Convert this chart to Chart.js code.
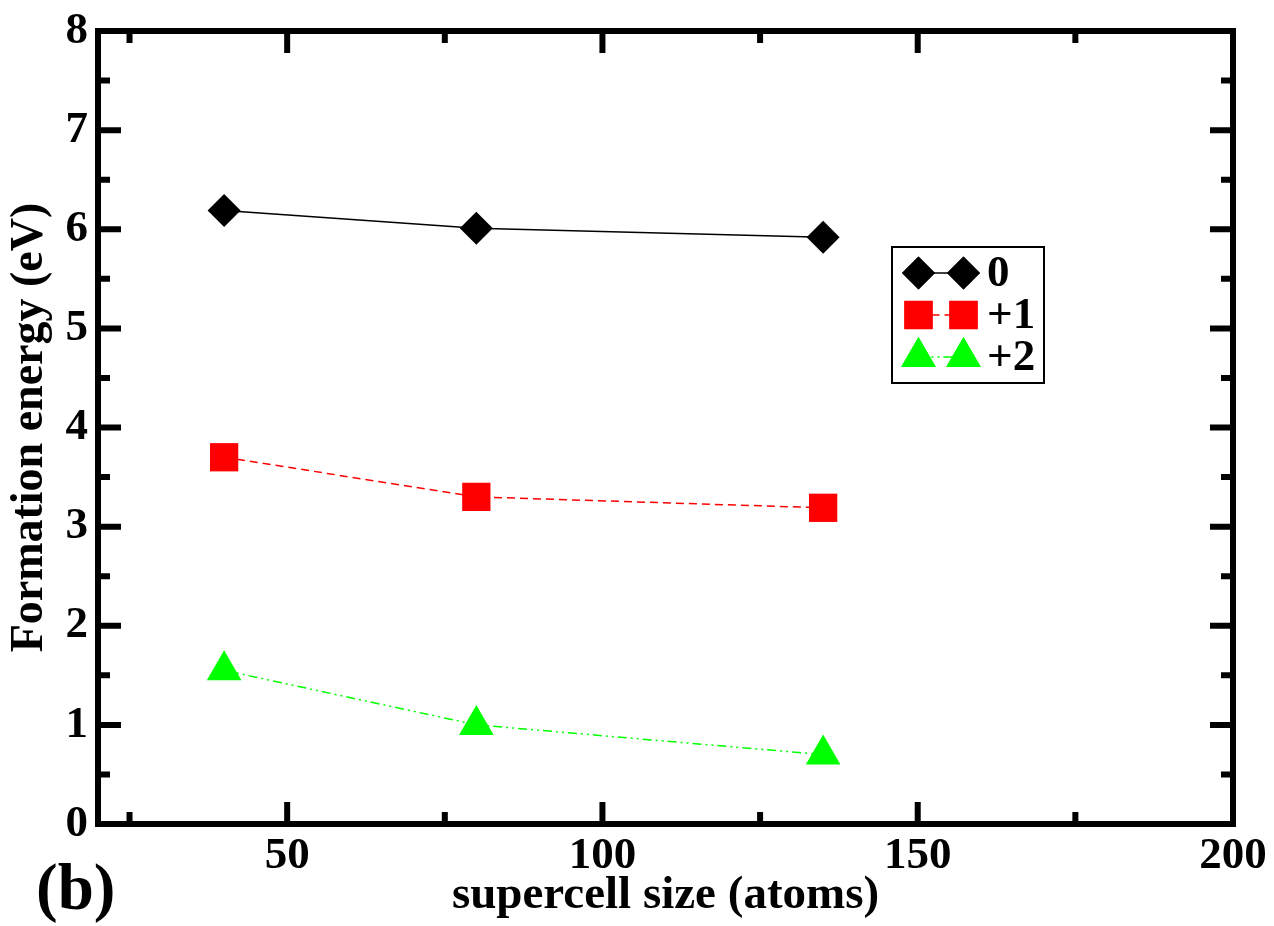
<!DOCTYPE html>
<html>
<head>
<meta charset="utf-8">
<title>Formation energy vs supercell size</title>
<script src="https://cdn.jsdelivr.net/npm/chart.js@4.4.1/dist/chart.umd.min.js"></script>
<style>
  html, body { margin: 0; padding: 0; background: #ffffff; }
  #wrap { position: relative; width: 1274px; height: 926px; }
</style>
</head>
<body>
<div id="wrap"><canvas id="energy-chart" width="1274" height="926"></canvas></div>
<script>
// supercell sizes (atoms) and formation energies (eV) per charge state
const sizes = [40, 80, 135];
const eNeutral = [6.19, 6.01, 5.92];
const ePlus1 = [3.70, 3.30, 3.19];
const ePlus2 = [1.55, 1.00, 0.70];
const chargeLabels = ['0', '+1', '+2'];

const xMin = 20, xMax = 200, xStep = 25, xLabelEvery = 50;
const yMin = 0, yMax = 8, yStep = 0.5;

const FONT = "'Liberation Serif', 'Times New Roman', serif";

function toPoints(ys) {
  return sizes.map((x, i) => ({ x: x, y: ys[i] }));
}

// marker + line styles for the three charge states
const seriesStyles = [
  { color: '#000000', pointStyle: 'rectRot', radius: 16.5, dash: [] },
  { color: '#ff0000', pointStyle: 'rect', radius: 20, dash: [8, 5] },
  { color: '#00ff00', pointStyle: 'triangle', radius: 20, dash: [9, 4, 2, 4, 2, 4] }
];

const seriesValues = [eNeutral, ePlus1, ePlus2];

const datasets = seriesValues.map((vals, i) => ({
  label: chargeLabels[i],
  data: toPoints(vals),
  showLine: true,
  borderColor: seriesStyles[i].color,
  borderWidth: 1.5,
  borderDash: seriesStyles[i].dash,
  backgroundColor: seriesStyles[i].color,
  pointStyle: seriesStyles[i].pointStyle,
  pointRadius: seriesStyles[i].radius,
  pointHoverRadius: seriesStyles[i].radius,
  pointBorderWidth: 0,
  pointBackgroundColor: seriesStyles[i].color,
  pointBorderColor: seriesStyles[i].color,
  tension: 0
}));

// fallback marker drawer in case helpers.drawPoint is not exposed
function drawMarker(ctx, style, x, y, r) {
  if (Chart.helpers && Chart.helpers.drawPoint) {
    Chart.helpers.drawPoint(ctx, { pointStyle: style, radius: r, rotation: 0, borderWidth: 0 }, x, y);
    ctx.fill();
    return;
  }
  ctx.beginPath();
  if (style === 'rectRot') {
    ctx.moveTo(x - r, y); ctx.lineTo(x, y - r); ctx.lineTo(x + r, y); ctx.lineTo(x, y + r);
  } else if (style === 'rect') {
    const s = r * Math.SQRT1_2;
    ctx.rect(x - s, y - s, 2 * s, 2 * s);
  } else {
    ctx.moveTo(x, y - r);
    ctx.lineTo(x + r * Math.sin(2 * Math.PI / 3), y + r / 2);
    ctx.lineTo(x - r * Math.sin(2 * Math.PI / 3), y + r / 2);
  }
  ctx.closePath();
  ctx.fill();
}

// frame, inward tick marks, legend box and panel tag
const framePlugin = {
  id: 'frameTicks',
  afterDraw(chart) {
    const { ctx, chartArea: a, scales } = chart;
    const xs = scales.x, ys = scales.y;
    ctx.save();
    ctx.strokeStyle = '#000000';
    ctx.lineWidth = 6;
    ctx.lineCap = 'butt';

    // x ticks on bottom and top edges
    xs.ticks.forEach(t => {
      const px = xs.getPixelForValue(t.value);
      if (px <= a.left + 1 || px >= a.right - 1) return;
      const len = (t.value % xLabelEvery === 0) ? 22 : 12;
      ctx.beginPath();
      ctx.moveTo(px, a.bottom); ctx.lineTo(px, a.bottom - len);
      ctx.moveTo(px, a.top); ctx.lineTo(px, a.top + len);
      ctx.stroke();
    });
    // y ticks on left and right edges
    ys.ticks.forEach(t => {
      const py = ys.getPixelForValue(t.value);
      if (py <= a.top + 1 || py >= a.bottom - 1) return;
      const len = Number.isInteger(t.value) ? 23 : 12;
      ctx.beginPath();
      ctx.moveTo(a.left, py); ctx.lineTo(a.left + len, py);
      ctx.moveTo(a.right, py); ctx.lineTo(a.right - len, py);
      ctx.stroke();
    });

    ctx.beginPath();
    ctx.rect(a.left, a.top, a.right - a.left, a.bottom - a.top);
    ctx.stroke();

    // legend
    const box = { x: 892, y: 247, w: 152, h: 136 };
    ctx.fillStyle = '#ffffff';
    ctx.fillRect(box.x, box.y, box.w, box.h);
    ctx.lineWidth = 2;
    ctx.strokeRect(box.x, box.y, box.w, box.h);
    const rows = [273, 315, 357];
    const mx1 = 918.5, mx2 = 963.5, tx = 987;
    chart.data.datasets.forEach((ds, i) => {
      const st = seriesStyles[i];
      const ry = rows[i];
      ctx.save();
      ctx.strokeStyle = st.color;
      ctx.lineWidth = 1.5;
      ctx.setLineDash(st.dash);
      ctx.beginPath();
      ctx.moveTo(mx1, ry); ctx.lineTo(mx2, ry);
      ctx.stroke();
      ctx.setLineDash([]);
      ctx.fillStyle = st.color;
      drawMarker(ctx, st.pointStyle, mx1, ry, st.radius);
      drawMarker(ctx, st.pointStyle, mx2, ry, st.radius);
      ctx.restore();
      ctx.fillStyle = '#000000';
      ctx.font = 'bold 45px ' + FONT;
      ctx.textAlign = 'left';
      ctx.textBaseline = 'middle';
      ctx.fillText(ds.label, tx, ry + 1);
    });

    // panel tag
    ctx.fillStyle = '#000000';
    ctx.font = 'bold 65px ' + FONT;
    ctx.textAlign = 'left';
    ctx.textBaseline = 'alphabetic';
    ctx.fillText('(b)', 36, 909);
    ctx.restore();
  }
};

new Chart(document.getElementById('energy-chart').getContext('2d'), {
  type: 'scatter',
  data: { datasets: datasets },
  options: {
    responsive: false,
    animation: false,
    events: [],
    layout: { padding: { left: 0, top: 31, right: 41, bottom: 0 } },
    plugins: {
      legend: { display: false },
      tooltip: { enabled: false }
    },
    scales: {
      x: {
        type: 'linear',
        min: xMin,
        max: xMax,
        afterFit: (scale) => { scale.height = 102; },
        grid: { display: false, drawTicks: false },
        border: { display: false },
        ticks: {
          stepSize: xStep,
          includeBounds: false,
          autoSkip: false,
          maxRotation: 0,
          padding: 5,
          color: '#000000',
          font: { family: FONT, size: 45, weight: 'bold' },
          callback: (v) => (v % xLabelEvery === 0 ? String(v) : '')
        },
        title: {
          display: true,
          text: 'supercell size (atoms)',
          color: '#000000',
          font: { family: FONT, size: 47, weight: 'bold' },
          padding: { top: 0, bottom: 2 }
        }
      },
      y: {
        type: 'linear',
        min: yMin,
        max: yMax,
        afterFit: (scale) => { scale.width = 98; },
        grid: { display: false, drawTicks: false },
        border: { display: false },
        ticks: {
          stepSize: yStep,
          autoSkip: false,
          padding: 10,
          color: '#000000',
          font: { family: FONT, size: 45, weight: 'bold', lineHeight: 0.8 },
          callback: (v) => (Number.isInteger(v) ? String(v) : '')
        },
        title: {
          display: true,
          text: 'Formation energy (eV)',
          color: '#000000',
          font: { family: FONT, size: 46, weight: 'bold' },
          padding: { top: 3, bottom: 0 }
        }
      }
    }
  },
  plugins: [framePlugin]
});
</script>
</body>
</html>
